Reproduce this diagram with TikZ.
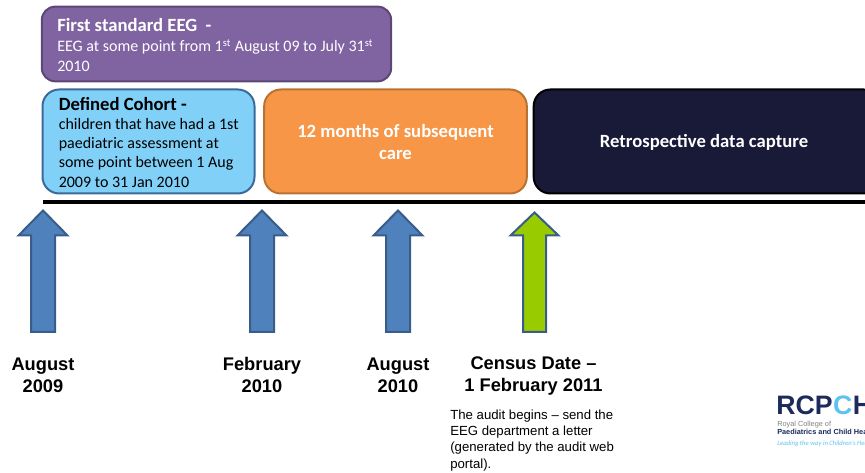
\documentclass[tikz,border=0pt]{standalone}
\usepackage{fontspec}
\setmainfont{Carlito}
\newfontfamily\arialfont{Liberation Sans}
\definecolor{purplefill}{HTML}{8064A2}
\definecolor{purpleline}{HTML}{5C4776}
\definecolor{cohortfill}{HTML}{81D0F7}
\definecolor{cohortline}{HTML}{3A6A9A}
\definecolor{carefill}{HTML}{F79646}
\definecolor{careline}{HTML}{B87333}
\definecolor{capturefill}{HTML}{181A38}
\definecolor{arrowfill}{HTML}{4F81BD}
\definecolor{arrowline}{HTML}{385D8A}
\definecolor{censusfill}{HTML}{99CC00}
\definecolor{logonavy}{HTML}{1C2A5C}
\definecolor{logocyan}{HTML}{5CC3EE}
\tikzset{
  periodbox/.style={draw, line width=1.5pt, rounded corners=12.5pt, inner sep=0pt},
  timearrow/.style={draw=arrowline, line width=1.5pt, miter limit=10},
  datelabel/.style={font=\arialfont\bfseries\fontsize{13.7}{16.5}\selectfont, align=center, inner sep=0pt},
}
\begin{document}
\begin{tikzpicture}[x=0.75pt,y=-0.75pt]
            \useasboundingbox (0,0) rectangle (865,473);
            % Boxes above the time line
            \node[periodbox, rounded corners=10pt, draw=purpleline, fill=purplefill, minimum width=262pt, minimum height=56pt] (eeg) at (216.5,44) {};
            \node[periodbox, draw=cohortline, fill=cohortfill, minimum width=159pt, minimum height=78pt] (cohort) at (148.5,141.5) {};
            \node[periodbox, draw=careline, fill=carefill, minimum width=197pt, minimum height=78pt] (care) at (395.5,141.5) {};
            \node[periodbox, draw=black, fill=capturefill, minimum width=260pt, minimum height=78pt] (capture) at (707,141.5) {};
            % Box texts
            \node[anchor=north west, inner sep=0pt, align=left, text=white, font=\fontsize{12}{15}\selectfont] (eegtext) at (57,18.5) {{\bfseries\fontsize{14}{15}\selectfont First standard EEG\ \ -}\\EEG at some point from 1\textsuperscript{st} August 09 to July 31\textsuperscript{st}\\2010};
            \node[anchor=north west, inner sep=0pt, align=left, font=\fontsize{12}{14.4}\selectfont] (cohorttext) at (58.5,97) {{\bfseries\fontsize{14}{14.4}\selectfont Defined Cohort -}\\children that have had a 1st\\paediatric assessment at\\some point between 1 Aug\\2009 to 31 Jan 2010};
            \node[align=center, text=white, font=\bfseries\fontsize{14}{16.5}\selectfont] (caretext) at (395.5,142) {12 months of subsequent\\care};
            \node[text=white, font=\bfseries\fontsize{14}{15}\selectfont] (capturetext) at (704,142) {Retrospective data capture};
            % Time line
            \coordinate (linestart) at (43,202.5);
            \coordinate (lineend) at (865,202.5);
            \draw[line width=3pt] (linestart) -- (lineend);
            % Arrows under the time line
            \foreach \x in {43,262,398}
              \draw[timearrow, fill=arrowfill] ({\x-12},332) -- ({\x-12},235.5) -- ({\x-24.5},235.5) -- (\x,210.5) -- ({\x+24.5},235.5) -- ({\x+12},235.5) -- ({\x+12},332) -- cycle;
            \draw[timearrow, fill=censusfill] (523,332) -- (523,235.5) -- (510.5,235.5) -- (534.5,212.5) -- (558.5,235.5) -- (546,235.5) -- (546,332) -- cycle;
            % Date labels
            \node[datelabel] (aug09) at (43,375) {August\\2009};
            \node[datelabel] (feb10) at (262,375) {February\\2010};
            \node[datelabel] (aug10) at (398,375) {August\\2010};
            \node[datelabel] (census) at (533.5,376) {Census Date –\\1 February 2011};
            \node[anchor=north west, inner sep=0pt, align=left, font=\arialfont\fontsize{9.9}{12.2}\selectfont] (begins) at (450,409.5) {The audit begins – send the\\EEG department a letter\\(generated by the audit web\\portal).};
            % Logo
            \node[anchor=base west, inner sep=0pt, text=logonavy, font=\arialfont\bfseries\fontsize{20}{20}\selectfont] (logorcp) at (776,415) {RCP};
            \node[anchor=base west, inner sep=0pt, text=logocyan, font=\arialfont\bfseries\fontsize{20}{20}\selectfont] (logoc) at (logorcp.base east) {C};
            \node[anchor=base west, inner sep=0pt, text=logonavy, font=\arialfont\bfseries\fontsize{20}{20}\selectfont] (logoh) at (logoc.base east) {H};
            \node[anchor=base west, inner sep=0pt, text=gray, font=\arialfont\fontsize{5.5}{5.5}\selectfont] (logoroyal) at (777,427) {Royal College of};
            \node[anchor=base west, inner sep=0pt, text=logonavy, font=\arialfont\bfseries\fontsize{5.5}{5.5}\selectfont] (logopaed) at (777,435) {Paediatrics and Child Health};
            \node[anchor=base west, inner sep=0pt, text=logocyan, font=\itshape\fontsize{5}{5}\selectfont] (logolead) at (777,446) {Leading the way in Children's Health};
        \end{tikzpicture}
\end{document}
